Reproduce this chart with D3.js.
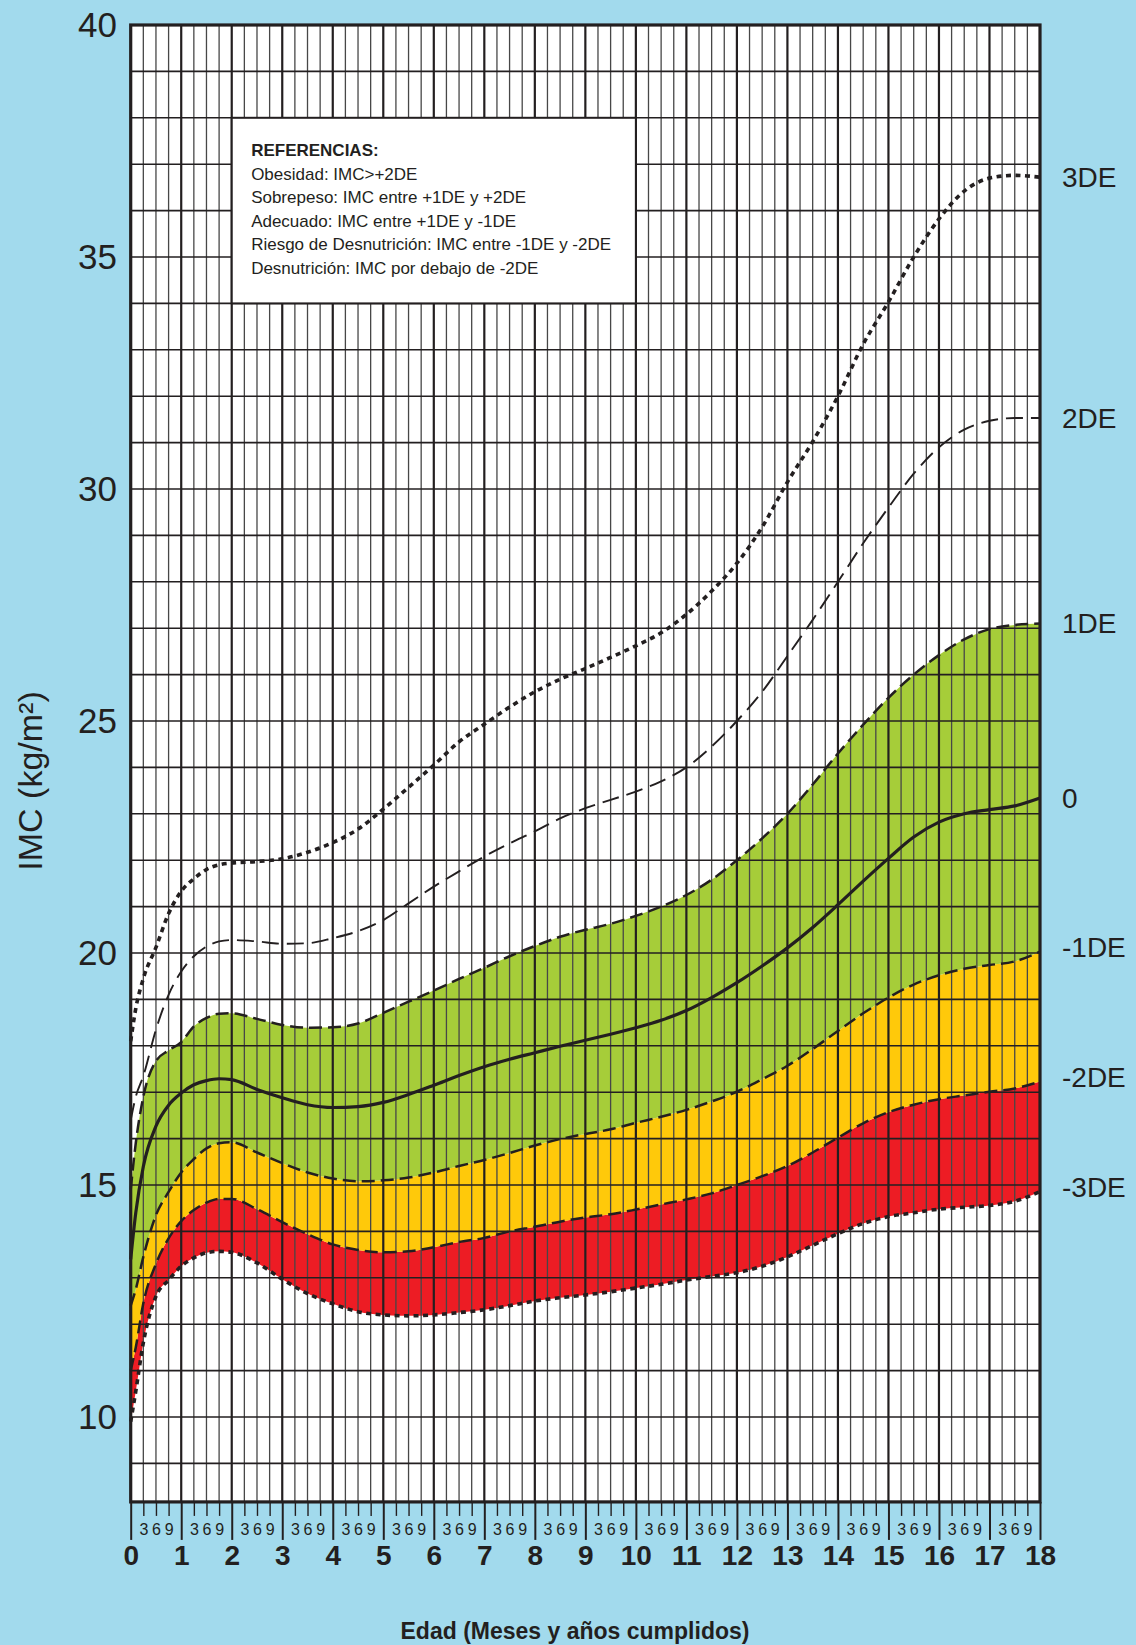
<!DOCTYPE html>
<html><head><meta charset="utf-8">
<script src="https://cdn.jsdelivr.net/npm/d3@7"></script>
<style>
html,body{margin:0;padding:0;background:#a2daed;}
svg{display:block;font-family:"Liberation Sans",Arial,Helvetica,sans-serif;}
</style>
</head><body>
<svg id="chart" width="1136" height="1645"></svg>
<script>
// ---- data ----
const ages = [0,0.1,0.25,0.5,0.75,1,1.25,1.5,1.75,2,2.5,3,3.5,4,4.5,5,5.5,6,6.5,7,7.5,8,8.5,9,9.5,10,10.5,11,11.5,12,12.5,13,13.5,14,14.5,15,15.5,16,16.5,17,17.5,18];
const sdP3 = [18.1,18.8,19.45,20.12,20.85,21.33,21.6,21.8,21.9,21.94,21.97,22.03,22.17,22.38,22.67,23.1,23.57,24.05,24.55,24.93,25.3,25.63,25.9,26.13,26.37,26.62,26.9,27.3,27.8,28.4,29.18,30.15,31.02,32.0,33.12,34.03,35.0,35.82,36.42,36.7,36.76,36.72];
const sdP2 = [16.4,16.9,17.35,18.35,19.1,19.6,19.93,20.14,20.25,20.28,20.25,20.2,20.21,20.32,20.47,20.71,21.07,21.43,21.76,22.08,22.36,22.62,22.9,23.12,23.3,23.48,23.7,24.0,24.45,25.0,25.63,26.4,27.18,28.0,28.83,29.6,30.33,30.9,31.28,31.47,31.53,31.53];
const sdP1 = [14.9,15.9,16.9,17.67,17.9,18.08,18.42,18.6,18.69,18.7,18.58,18.45,18.39,18.4,18.48,18.71,18.95,19.19,19.44,19.68,19.93,20.15,20.35,20.5,20.63,20.8,21.0,21.25,21.58,22.0,22.47,23.0,23.63,24.3,24.92,25.5,26.0,26.42,26.76,26.98,27.07,27.1];
const sd0  = [13.4,14.4,15.4,16.27,16.72,16.98,17.16,17.25,17.29,17.27,17.06,16.88,16.73,16.67,16.69,16.78,16.95,17.15,17.36,17.55,17.71,17.85,17.99,18.12,18.25,18.39,18.55,18.76,19.04,19.36,19.72,20.11,20.55,21.04,21.55,22.04,22.5,22.82,23.0,23.09,23.17,23.34];
const sdM1 = [12.4,12.75,13.45,14.35,14.85,15.27,15.56,15.79,15.9,15.92,15.7,15.47,15.27,15.14,15.08,15.1,15.16,15.27,15.41,15.54,15.69,15.85,15.99,16.1,16.2,16.34,16.47,16.62,16.8,17.01,17.28,17.57,17.93,18.32,18.7,19.04,19.32,19.52,19.66,19.74,19.82,20.03];
const sdM2 = [11.0,11.5,12.45,13.3,13.85,14.22,14.46,14.62,14.7,14.7,14.48,14.2,13.94,13.72,13.6,13.55,13.57,13.66,13.77,13.86,14.0,14.1,14.21,14.3,14.37,14.47,14.58,14.69,14.82,15.0,15.19,15.41,15.7,16.02,16.33,16.57,16.73,16.85,16.93,17.01,17.08,17.23];
const sdM3 = [9.9,10.55,11.6,12.6,12.95,13.25,13.43,13.54,13.57,13.55,13.32,12.97,12.66,12.44,12.27,12.2,12.18,12.2,12.25,12.31,12.4,12.5,12.57,12.63,12.7,12.78,12.86,12.95,13.03,13.11,13.25,13.45,13.7,13.95,14.17,14.32,14.4,14.48,14.52,14.56,14.65,14.86];
const seriesNames = ["3DE","2DE","1DE","0","-1DE","-2DE","-3DE"];
const yTickValues = [10,15,20,25,30,35,40];
const yearTicks = [0,1,2,3,4,5,6,7,8,9,10,11,12,13,14,15,16,17,18];
const monthLabels = ["3","6","9"];
const legendTitle = "REFERENCIAS:";
const legendLines = [
  "Obesidad: IMC>+2DE",
  "Sobrepeso: IMC entre +1DE y +2DE",
  "Adecuado: IMC entre +1DE y -1DE",
  "Riesgo de Desnutrición: IMC entre -1DE y -2DE",
  "Desnutrición: IMC por debajo de -2DE"
];
const yTitle = "IMC (kg/m²)";
const xTitle = "Edad (Meses y años cumplidos)";

// ---- layout ----
const INK = "#231f20";
const svg = d3.select("#chart");
const x = d3.scaleLinear().domain([0,18]).range([130.7,1040]);
const y = d3.scaleLinear().domain([10,40]).range([1417,25]);
const yMinPlot = 8.17;
const plotTop = y(40), plotBottom = y(yMinPlot), plotLeft = x(0), plotRight = x(18);

svg.append("rect").attr("width",1136).attr("height",1645).attr("fill","#a2daed");
svg.append("rect").attr("x",plotLeft).attr("y",plotTop)
  .attr("width",plotRight-plotLeft).attr("height",plotBottom-plotTop).attr("fill","#ffffff");

const rows = ages.map((a,i)=>({a, p3:sdP3[i], p2:sdP2[i], p1:sdP1[i], m:sd0[i], m1:sdM1[i], m2:sdM2[i], m3:sdM3[i]}));
const curve = d3.curveMonotoneX;
function band(lo,hi,color){
  svg.append("path").datum(rows)
    .attr("d", d3.area().curve(curve).x(d=>x(d.a)).y0(d=>y(d[lo])).y1(d=>y(d[hi])))
    .attr("fill",color);
}
band("m3","m2","#ed1c24");
band("m2","m1","#ffc90a");
band("m1","p1","#a6cd39");

// grid
const gGrid = svg.append("g");
const quarters = d3.range(1,72).map(i=>i/4).filter(v=>v%1!==0);
gGrid.selectAll(".vq").data(quarters).join("line")
  .attr("x1",d=>x(d)).attr("x2",d=>x(d)).attr("y1",plotTop).attr("y2",plotBottom)
  .attr("stroke","#474747").attr("stroke-width",1.3);
gGrid.selectAll(".hl").data(d3.range(9,40)).join("line")
  .attr("x1",plotLeft).attr("x2",plotRight).attr("y1",d=>y(d)).attr("y2",d=>y(d))
  .attr("stroke",INK).attr("stroke-width",1.6);
gGrid.selectAll(".vy").data(yearTicks.slice(1,-1)).join("line")
  .attr("x1",d=>x(d)).attr("x2",d=>x(d)).attr("y1",plotTop).attr("y2",plotBottom)
  .attr("stroke",INK).attr("stroke-width",2.2);

// curves
const styles = {
  p3:{w:3.6,dash:"5,4.5"},
  p2:{w:1.9,dash:"17,8"},
  p1:{w:2.5,dash:"13,6"},
  m:{w:3.2,dash:null},
  m1:{w:2.5,dash:"13,6"},
  m2:{w:2.5,dash:"13,6"},
  m3:{w:3.6,dash:"5,4.5"}
};
const keys = ["p3","p2","p1","m","m1","m2","m3"];
keys.forEach(k=>{
  svg.append("path").datum(rows)
    .attr("d", d3.line().curve(curve).x(d=>x(d.a)).y(d=>y(d[k])))
    .attr("fill","none").attr("stroke",INK)
    .attr("stroke-width",styles[k].w)
    .attr("stroke-dasharray",styles[k].dash);
});

// legend box
const lx0 = x(2), lx1 = x(10), ly0 = y(38), ly1 = y(34);
svg.append("rect").attr("x",lx0).attr("y",ly0).attr("width",lx1-lx0).attr("height",ly1-ly0)
  .attr("fill","#fff").attr("stroke",INK).attr("stroke-width",2);
const lg = svg.append("g").attr("fill",INK).attr("font-size",17);
lg.append("text").attr("x",lx0+19.4).attr("y",ly0+38.5).attr("font-weight","bold").text(legendTitle);
legendLines.forEach((t,i)=>{
  lg.append("text").attr("x",lx0+19.4).attr("y",ly0+38.5+23.5*(i+1)).text(t);
});

// frame
svg.append("rect").attr("x",plotLeft).attr("y",plotTop)
  .attr("width",plotRight-plotLeft).attr("height",plotBottom-plotTop)
  .attr("fill","none").attr("stroke",INK).attr("stroke-width",3.2);

// x axis: quarter ticks with month labels
const monthAxis = d3.axisBottom(x).tickValues(d3.range(0,72).map(i=>i/4).filter(v=>v%1!==0))
  .tickSize(14).tickPadding(7.6).tickFormat(d=>monthLabels[Math.round((d%1)*4)-1]);
const gm = svg.append("g").attr("transform",`translate(0,${plotBottom})`).call(monthAxis);
gm.select(".domain").remove();
gm.selectAll("line").attr("stroke",INK).attr("stroke-width",1.4);
gm.selectAll("text").attr("fill",INK).attr("font-size",16)
  .attr("font-family","Liberation Sans, Arial, sans-serif");

const yearAxis = d3.axisBottom(x).tickValues(yearTicks).tickSize(38).tickPadding(5).tickFormat(d=>d);
const gy = svg.append("g").attr("transform",`translate(0,${plotBottom})`).call(yearAxis);
gy.select(".domain").remove();
gy.selectAll("line").attr("stroke",INK).attr("stroke-width",2);
gy.selectAll("text").attr("fill",INK).attr("font-size",28).attr("font-weight","bold")
  .attr("font-family","Liberation Sans, Arial, sans-serif");

// y axis labels
const leftAxis = d3.axisLeft(y).tickValues(yTickValues).tickSize(0).tickPadding(13.7);
const gl = svg.append("g").attr("transform",`translate(${plotLeft},0)`).call(leftAxis);
gl.select(".domain").remove();
gl.selectAll("text").attr("fill",INK).attr("font-size",35)
  .attr("font-family","Liberation Sans, Arial, sans-serif");

// right-hand SD labels at series end values
const endVals = keys.map(k=>rows[rows.length-1][k]);
svg.append("g").selectAll("text").data(seriesNames).join("text")
  .attr("x",1062).attr("y",(d,i)=>y(endVals[i]) - (i>=4?4:0))
  .attr("dominant-baseline","central")
  .attr("font-size",28).attr("fill",INK).text(d=>d);

// titles
svg.append("text").attr("transform","translate(42,781) rotate(-90)")
  .attr("text-anchor","middle").attr("font-size",34).attr("fill",INK).text(yTitle);
svg.append("text").attr("x",575).attr("y",1638.5).attr("text-anchor","middle")
  .attr("font-size",23).attr("font-weight","bold").attr("fill",INK).text(xTitle);
</script>
</body></html>
